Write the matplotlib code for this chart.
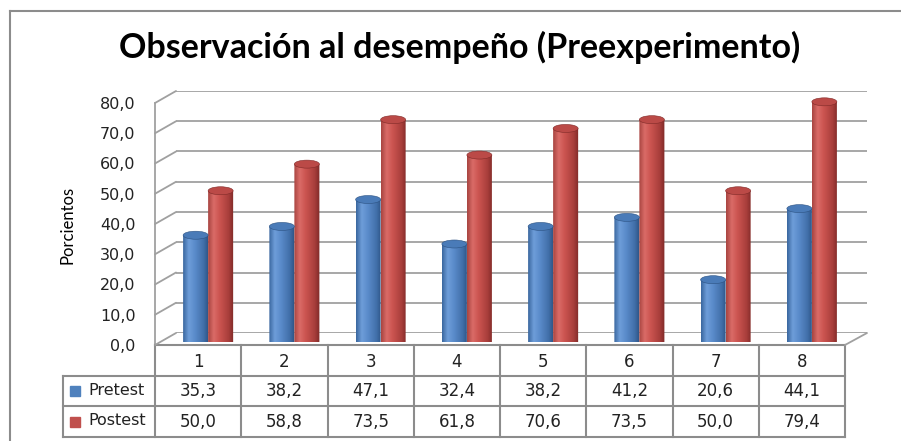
import matplotlib.pyplot as plt
import numpy as np
from matplotlib.patches import Ellipse, Polygon, ConnectionPatch
from matplotlib.lines import Line2D
from matplotlib.colors import to_rgb

W, H = 901, 441

categories = ["1", "2", "3", "4", "5", "6", "7", "8"]
pretest = [35.3, 38.2, 47.1, 32.4, 38.2, 41.2, 20.6, 44.1]
postest = [50.0, 58.8, 73.5, 61.8, 70.6, 73.5, 50.0, 79.4]
series_names = ["Pretest", "Postest"]
y_ticks = [0, 10, 20, 30, 40, 50, 60, 70, 80]

base_colors = ["#4f81bd", "#c0504d"]
top_colors = ["#4a7bb8", "#bb4a47"]
gradients = [
    [(0.0, "#3a679f"), (0.22, "#6e9dd9"), (0.45, "#5b8ccb"), (0.8, "#416fa9"), (1.0, "#2c5282")],
    [(0.0, "#a84541"), (0.22, "#da6b67"), (0.45, "#cb5450"), (0.8, "#a83e3b"), (1.0, "#7f2a28")],
]
grid_col = "#a0a0a0"
line_col = "#8c8c8c"


def rect_px(left, top, right, bottom):
    return [left / W, 1 - bottom / H, (right - left) / W, (bottom - top) / H]


def make_gradient(stops, n=64):
    pos = [s[0] for s in stops]
    cols = np.array([to_rgb(s[1]) for s in stops])
    t = np.linspace(0, 1, n)
    img = np.stack([np.interp(t, pos, cols[:, k]) for k in range(3)], axis=-1)
    return img[np.newaxis, :, :]


fig = plt.figure(figsize=(W / 100, H / 100), dpi=100)

# chart border (only top and left edges fall inside the picture)
fig.add_artist(Line2D([10 / W, 10 / W], [0, 1 - 11 / H], transform=fig.transFigure,
                      color=line_col, lw=1.5))
fig.add_artist(Line2D([10 / W, 1], [1 - 11 / H, 1 - 11 / H], transform=fig.transFigure,
                      color=line_col, lw=1.5))

# three planes of the 3D box: back wall, bars, front
ax_back = fig.add_axes(rect_px(176, 91, 867, 333))
ax = fig.add_axes(rect_px(165, 100, 855, 342))
ax_front = fig.add_axes(rect_px(155, 103, 845, 345))
ax_tab = fig.add_axes(rect_px(155, 345, 845, 437))

x = np.arange(1, len(categories) + 1)
for a in (ax_back, ax, ax_front):
    a.set_xlim(0.5, len(categories) + 0.5)
    a.set_ylim(0, 80)
    a.patch.set_visible(False)
    for s in a.spines.values():
        s.set_visible(False)
    a.set_xticks([])

# back wall gridlines
ax_back.set_yticks(y_ticks)
ax_back.set_yticklabels([])
ax_back.tick_params(length=0)
ax_back.grid(axis="y", color=grid_col, lw=1.3)
ax.set_yticks([])

# front axis with labels
ax_front.set_yticks(y_ticks)
ax_front.set_yticklabels([f"{v:.1f}".replace(".", ",") for v in y_ticks],
                         fontsize=11.5, family="DejaVu Sans", color="#222222")
ax_front.tick_params(axis="y", length=0, pad=14)
ax_front.spines["left"].set_visible(True)
ax_front.spines["left"].set_color(grid_col)
ax_front.spines["left"].set_linewidth(1.3)

# diagonal connectors of the side wall and floor
for t in y_ticks:
    fig.add_artist(ConnectionPatch(xyA=(0.5, t), coordsA=ax_front.transData,
                                   xyB=(0.5, t), coordsB=ax_back.transData,
                                   color=grid_col, lw=1.3))
fig.add_artist(ConnectionPatch(xyA=(len(categories) + 0.5, 0), coordsA=ax_front.transData,
                               xyB=(len(categories) + 0.5, 0), coordsB=ax_back.transData,
                               color=grid_col, lw=1.3))

# cylinders
bw = 0.29
ell_h = 8 / (242 / 80)
for k, vals in enumerate([pretest, postest]):
    offs = (k - 0.5) * bw
    bars = ax.bar(x + offs, vals, bw, color=base_colors[k], linewidth=0, zorder=2)
    grad = make_gradient(gradients[k])
    for b in bars:
        x0, w, h = b.get_x(), b.get_width(), b.get_height()
        cx = x0 + w / 2
        tt = np.linspace(np.pi, 2 * np.pi, 40)
        arc = np.column_stack([cx + w / 2 * np.cos(tt), ell_h / 2 * np.sin(tt)])
        pts = np.vstack([[x0, h], [x0, 0], arc, [x0 + w, 0], [x0 + w, h]])
        clip = Polygon(pts, closed=True, transform=ax.transData, facecolor="none", edgecolor="none")
        ax.add_patch(clip)
        b.set_visible(False)
        im = ax.imshow(grad, extent=[x0, x0 + w, -ell_h / 2, h], aspect="auto",
                       interpolation="bilinear", zorder=3)
        im.set_clip_path(clip)
        ax.add_patch(Ellipse((cx, h), w, ell_h, facecolor=top_colors[k],
                             edgecolor=gradients[k][-1][1], lw=0.4, zorder=4, clip_on=False))
ax.set_xlim(0.5, len(categories) + 0.5)
ax.set_ylim(0, 80)

# data table
n = len(categories)
ax_tab.set_xlim(0.5, n + 0.5)
ax_tab.set_ylim(3, 0)
ax_tab.axis("off")
leg_x = 0.5 - 92 / 86.25
tab_kw = dict(color=line_col, lw=1.5, clip_on=False, solid_capstyle="projecting")
ax_tab.plot([0.5, n + 0.5], [0, 0], **tab_kw)
for yy in (1, 2, 3):
    ax_tab.plot([leg_x, n + 0.5], [yy, yy], **tab_kw)
for xx in np.arange(0.5, n + 1):
    ax_tab.plot([xx, xx], [0, 3], **tab_kw)
ax_tab.plot([leg_x, leg_x], [1, 3], **tab_kw)

txt_kw = dict(ha="center", va="center", fontsize=12, family="DejaVu Sans", color="#222222")
for i, c in enumerate(categories):
    ax_tab.text(x[i], 0.55, c, **txt_kw)
for r, vals in enumerate([pretest, postest]):
    for i, v in enumerate(vals):
        ax_tab.text(x[i], 1.5 + r, f"{v:.1f}".replace(".", ","), **txt_kw)
    ax_tab.plot([leg_x + 0.14], [1.5 + r], marker="s", ms=7, color=base_colors[r],
                linestyle="none", clip_on=False)
    ax_tab.text(leg_x + 0.29, 1.47 + r, series_names[r], ha="left", va="center",
                fontsize=11.5, family="DejaVu Sans", color="#222222")

fig.text(460 / W, 1 - 47 / H, "Observación al desempeño (Preexperimento)",
         ha="center", va="center", fontsize=24.5, fontweight="bold", family="Lato")
fig.text(68 / W, 1 - 225 / H, "Porcientos", rotation=90, ha="center", va="center",
         fontsize=12, family="Lato")

fig.savefig("out.png", dpi=100)
